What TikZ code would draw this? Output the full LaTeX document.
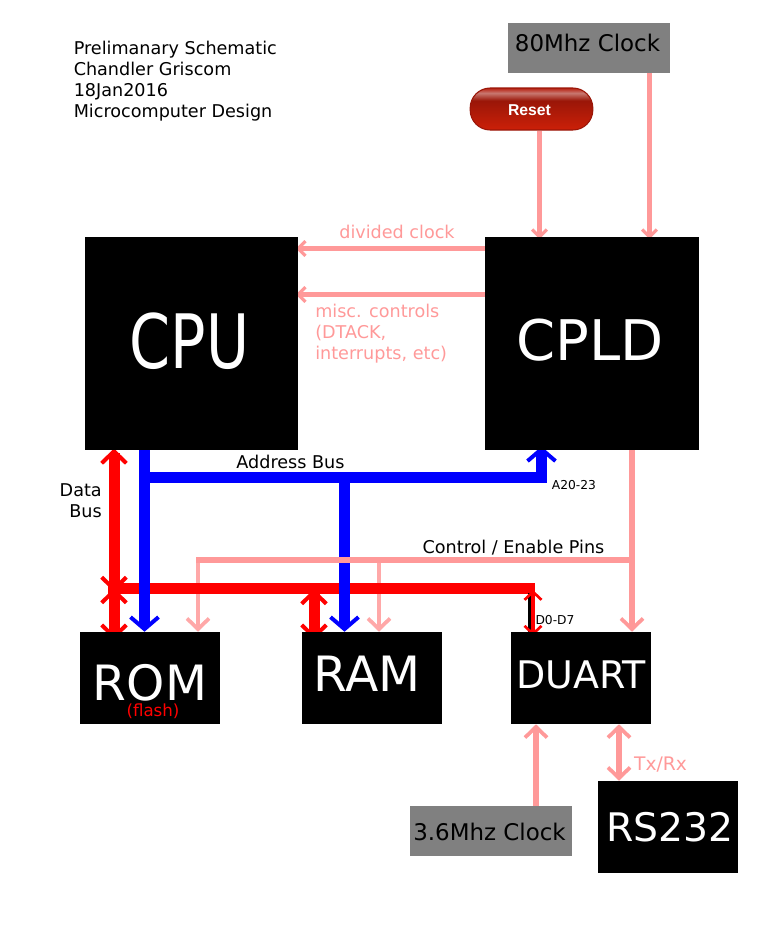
\documentclass[tikz,border=0pt]{standalone}
\usepackage{fontspec}
\setmainfont{DejaVu Sans}
\newfontfamily\btnfont{Liberation Sans}
\usepackage{tikz}
\usetikzlibrary {arrows,arrows.meta,positioning,backgrounds}
\definecolor{ctrlpink}{HTML}{FF9999}
\definecolor{droppink}{HTML}{FFA8A8}
\definecolor{clockgray}{HTML}{808080}
\definecolor{btnrim}{HTML}{B82010}
\definecolor{btnglow}{HTML}{C87870}
\definecolor{btndark}{HTML}{9A1608}
\definecolor{btnlow}{HTML}{CC2008}
\pgfdeclareverticalshading{resetglow}{100bp}{color(0bp)=(btnlow); color(25bp)=(btnlow); color(60bp)=(btndark); color(69bp)=(btnglow); color(75bp)=(btnrim); color(100bp)=(btnrim)}
% shifts a label off the middle of its box
\newcommand{\chiptext}[3]{\raisebox{#2}[0pt][0pt]{\makebox[0pt]{\kern#1 #3}}}
\tikzset{chipbox/.style={
    % The shape:
    rectangle,
    % The size:
    minimum width=105pt,
    minimum height=69pt,
    inner sep=0pt,
    % The filling:
    fill=black,
    % Font
    text=white,
    font=\fontsize{36.5pt}{36.5pt}\selectfont
    },
    bigchip/.style={
    chipbox,
    minimum width=160pt,
    minimum height=160pt,
    font=\fontsize{42pt}{42pt}\selectfont
    },
    clockbox/.style={
    rectangle,
    minimum width=121.5pt,
    minimum height=37.5pt,
    inner sep=0pt,
    fill=clockgray,
    font=\fontsize{17.2pt}{17.2pt}\selectfont,
    },
    resetbutton/.style={
    rectangle,rounded corners=15pt,
    minimum width=92pt,
    minimum height=31.5pt,
    inner sep=0pt,
    draw=btndark,
    line width=0.8pt,
    shading=resetglow,
    text=white,
    font=\fontsize{11.8pt}{11.8pt}\selectfont\btnfont\bfseries,
    },
    note/.style={
    inner sep=0pt,
    font=\fontsize{13.2pt}{15.75pt}\selectfont,
    align=left,
    },
    pinknote/.style={
    note,
    text=ctrlpink,
    },
    tinynote/.style={
    inner sep=0pt,
    font=\fontsize{9.2pt}{9.2pt}\selectfont,
    },
    ctrlline/.style={
    draw=ctrlpink,
    line width=4.1pt,
    >={Straight Barb[length=8pt,width=16.5pt,line width=2.8pt]},
    },
    cutline/.style={
    ctrlline,
    shorten >=-2pt,
    >={Straight Barb[length=5.6pt,width=11pt,line width=2.4pt]},
    },
    dropline/.style={
    ctrlline,
    draw=droppink,
    line width=3pt,
    },
    databus/.style={
    draw=red,
    line width=8.25pt,
    >={Straight Barb[length=9pt,width=18.5pt,line width=3pt]},
    },
    lowwire/.style={
    draw=red,
    line width=3pt,
    >={Straight Barb[length=6pt,width=12.75pt,line width=2pt]},
    },
    addrbus/.style={
    draw=blue,
    line width=8.25pt,
    >={Straight Barb[length=9pt,width=21pt,line width=3pt]},
    },
}

\begin{document}
\begin{tikzpicture}[x=0.75pt,y=-0.75pt]
    \useasboundingbox (0,0) rectangle (768,928);

    \node (cpu)    [bigchip] at (191.5,343.5) {\chiptext{-3pt}{-18.6pt}{\scalebox{1.05}[1.34]{CPU}}};
    \node (cpld)   [bigchip,right=139.75pt of cpu,minimum width=160.75pt] {\chiptext{-3pt}{-12.4pt}{CPLD}};
    \node (rom)    [chipbox] at (150,678) {\chiptext{0pt}{-16.5pt}{ROM}};
    \node (ram)    [chipbox,right=61.25pt of rom] {\chiptext{-7.5pt}{-10.3pt}{RAM}};
    \node (duart)  [chipbox,right=51.25pt of ram,font=\fontsize{28.5pt}{28.5pt}\selectfont] {\chiptext{0pt}{-7.5pt}{DUART}};
    \node (rs232)  [chipbox,font=\fontsize{29.5pt}{29.5pt}\selectfont] at (668,827) {\chiptext{3pt}{-11pt}{RS232}};
    \node (clkhi)  [clockbox] at (589,48) {\chiptext{-2.2pt}{-2.8pt}{80Mhz Clock}};
    \node (clklo)  [clockbox] at (491,831) {\chiptext{-2.2pt}{-7.3pt}{3.6Mhz Clock}};
    \node (reset)  [resetbutton] at (531.5,109) {\chiptext{-3pt}{-4.5pt}{Reset}};

    \node (title)  [note,anchor=north west] at (73.5,41) {Prelimanary Schematic\\Chandler Griscom\\18Jan2016\\Microcomputer Design};
    \node (dclk)   [pinknote] at (397,232) {divided clock};
    \node (misc)   [pinknote,anchor=north west] at (315,304) {misc. controls\\(DTACK,\\interrupts, etc)};
    \node (addr)   [note] at (290.5,461.5) {Address Bus};
    \node (data)   [note,align=right,anchor=east] at (102,501) {Data\\Bus};
    \node (hiaddr) [tinynote] at (574,485) {A20-23};
    \node (enable) [note] at (513.5,548) {Control / Enable Pins};
    \node (lodata) [tinynote] at (555,620) {D0-D7};
    \node (txrx)   [pinknote,font=\fontsize{14pt}{14pt}\selectfont] at (660.5,765) {Tx/Rx};
    \node (flash)  [note,text=red,font=\fontsize{12.5pt}{12.5pt}\selectfont] at (153,711) {(flash)};

    \coordinate (dl) at (114,588);
    \coordinate (dr) at (535,588);
    \coordinate (rt) at (314,589);
    \coordinate (dt) at (533,590);
    \coordinate (dk) at (529.5,593);
    \coordinate (al) at (144.5,477.5);
    \coordinate (ar) at (541.5,477.5);
    \coordinate (am) at (344.5,477.5);
    \coordinate (cl) at (198,560);
    \coordinate (cm) at (379,560);
    \coordinate (cr) at (632,560);
    \coordinate (hix) at (649.5,0);
    \coordinate (rstx) at (539.5,0);
    \coordinate (lox) at (536,0);
    \coordinate (txx) at (619,0);
    \coordinate (dclky) at (0,248.5);
    \coordinate (miscy) at (0,294.5);

    \begin{scope}[on background layer]
      % pink drops sit under the data bus
      \draw[dropline,->] (cl) -- (rom.north -| cl);
      \draw[dropline,->] (cm) -- (ram.north -| cm);

      % data bus
      \draw[databus,<->,shorten <=-1.5pt,shorten >=-3pt] (cpu.south -| dl) -- (dl);
      \draw[databus,<->,shorten >=-6pt] (dl) -- (rom.north -| dl);
      \draw[databus] ([xshift=-4.5pt]dl) -- (dr);
      \draw[databus,<->,shorten >=-6pt] (rt) -- (ram.north -| rt);
      \draw[black,line width=2.25pt] (dk) -- (duart.north -| dk);
      \draw[lowwire,<->,shorten >=-3pt] (dt) -- (duart.north -| dt);

      % address bus
      \draw[addrbus,->] (cpu.south -| al) -- (rom.north -| al);
      \draw[addrbus] ([xshift=-4pt]al) -- ([xshift=4pt]ar);
      \draw[addrbus,->,shorten >=-3pt] (ar) -- (cpld.south -| ar);
      \draw[addrbus,->] (am) -- (ram.north -| am);

      % control lines
      \draw[cutline,->] (clkhi.south -| hix) -- (cpld.north -| hix);
      \draw[cutline,->] (reset.south -| rstx) -- (cpld.north -| rstx);
      \draw[cutline,->] (cpld.west |- dclky) -- (cpu.east |- dclky);
      \draw[cutline,->] (cpld.west |- miscy) -- (cpu.east |- miscy);
      \draw[ctrlline] (cr) -- ([xshift=-1.5pt]cl);
      \draw[ctrlline,->] (cpld.south -| cr) -- (duart.north -| cr);
      \draw[ctrlline,->] (clklo.north -| lox) -- (duart.south -| lox);
      \draw[ctrlline,<->] (duart.south -| txx) -- (rs232.north -| txx);
    \end{scope}
\end{tikzpicture}
\end{document}
